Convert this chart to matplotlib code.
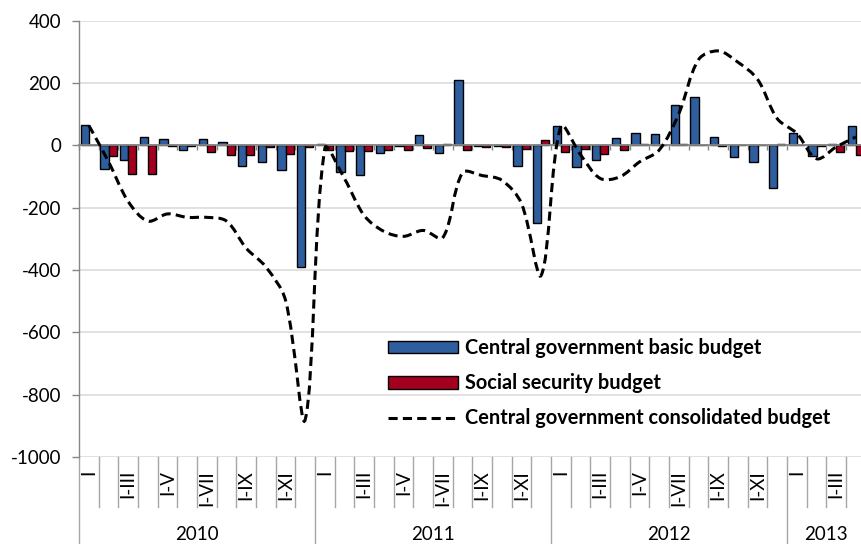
import numpy as np
import matplotlib
matplotlib.use('Agg')
import matplotlib.pyplot as plt
from matplotlib.path import Path
from matplotlib.patches import PathPatch, Patch
from matplotlib.lines import Line2D
from matplotlib.font_manager import FontProperties
import matplotlib.transforms as mtrans

plt.rcParams['font.family'] = ['Lato', 'DejaVu Sans']
plt.rcParams['axes.unicode_minus'] = False

# ---------------- data ----------------
years = ['2010', '2011', '2012', '2013']
months_per_year = [12, 12, 12, 4]
month_labels = ['I', 'I-II', 'I-III', 'I-IV', 'I-V', 'I-VI',
                'I-VII', 'I-VIII', 'I-IX', 'I-X', 'I-XI', 'I-XII']

basic = [64, -77, -46, 27, 22, -14, 19, 11, -67, -54, -78, -390,
         3, -86, -96, -25, -3, 32, -25, 211, -3, -3, -67, -249,
         62, -70, -48, 24, 41, 36, 128, 155, 28, -38, -54, -136,
         40, -35, 5, 61]

social = [0, -35, -91, -92, -2, -3, -21, -30, -30, -5, -27, -5,
          -16, -17, -17, -16, -14, -10, 5, -16, -5, -5, -13, 16,
          -21, -11, -29, -16, 3, 0, 5, 0, -3, 0, 0, 5,
          0, -3, -21, -32]

consolidated = [64, -52, -180, -243, -220, -231, -231, -243, -330, -390, -497, -880,
                -10, -107, -225, -276, -292, -273, -296, -88, -97, -112, -187, -417,
                61, -30, -106, -101, -53, -15, 102, 275, 303, 267, 212, 86,
                38, -43, -5, 27]

series_names = ['Central government basic budget',
                'Social security budget',
                'Central government consolidated budget']

BLUE = '#2F5E9E'
RED = '#A3001F'
GRAY = '#868686'
GRID = '#D9D9D9'

# ---------------- figure ----------------
W, H = 862, 544
fig = plt.figure(figsize=(W / 100, H / 100), dpi=100)
left_px, right_px, top_px, bot_px = 79, 865.7, 20.7, 457
ax = fig.add_axes([left_px / W, (H - bot_px) / H,
                   (right_px - left_px) / W, (bot_px - top_px) / H])

n = len(basic)
x = np.arange(n)
ax.bar(x - 0.21, basic, width=0.42, color=BLUE, edgecolor='black',
       linewidth=1.0, zorder=2)
ax.bar(x + 0.21, social, width=0.42, color=RED, edgecolor='black',
       linewidth=1.0, zorder=2)

ax.set_xlim(-0.5, n - 0.5)
ax.set_ylim(-1000, 400)

# smoothed line (Excel-like Bezier, tangent split by segment lengths in pixels)
pts = np.column_stack([x, consolidated]).astype(float)
sx = (right_px - left_px) / n          # px per category
sy = (bot_px - top_px) / 1400.0        # px per unit


def seglen(a, b):
    return np.hypot((b[0] - a[0]) * sx, (b[1] - a[1]) * sy)


out_cp = []
in_cp = []
for i in range(n):
    p = pts[i]
    prv = pts[max(i - 1, 0)]
    nxt = pts[min(i + 1, n - 1)]
    T = nxt - prv
    d1 = seglen(prv, p)
    d2 = seglen(p, nxt)
    tot = d1 + d2 if (d1 + d2) > 0 else 1.0
    k = 1.0 / 3.0
    out_cp.append(p + T * k * d2 / tot)
    in_cp.append(p - T * k * d1 / tot)

verts = [tuple(pts[0])]
codes = [Path.MOVETO]
for i in range(n - 1):
    verts += [tuple(out_cp[i]), tuple(in_cp[i + 1]), tuple(pts[i + 1])]
    codes += [Path.CURVE4] * 3
LW = 2.2
DASH = (3, 1.7)
line = PathPatch(Path(verts, codes), facecolor='none', edgecolor='black',
                 linewidth=LW, linestyle=(0, DASH), zorder=3)
ax.add_patch(line)

# axes styling
ax.set_yticks(np.arange(-1000, 401, 200))
ax.set_axisbelow(True)
ax.yaxis.grid(True, color=GRID, linewidth=1.1)
ax.spines['top'].set_visible(False)
ax.spines['right'].set_visible(False)
ax.spines['left'].set_color(GRAY)
ax.spines['left'].set_linewidth(1.0)
ax.spines['bottom'].set_position(('data', 0))
ax.spines['bottom'].set_color(GRAY)
ax.spines['bottom'].set_linewidth(1.3)
ax.spines['bottom'].set_zorder(2.5)
ax.set_xticks(np.arange(-0.5, n, 1.0))
ax.tick_params(axis='x', length=3.6, width=1.0, color=GRAY, direction='out',
               labelbottom=False)
ax.tick_params(axis='y', length=5, width=1.0, color=GRAY, direction='out',
               pad=8, labelsize=13.5)

# category label area below the plot
trans = mtrans.blended_transform_factory(ax.transData, ax.transAxes)
ph = bot_px - top_px
month_line_len = -50 / ph
year_line_len = -(H - bot_px + 2) / ph
year_starts = np.cumsum([0] + months_per_year[:-1])
for b in np.arange(-0.5, n, 1.0):
    is_year = (b + 0.5) in year_starts
    ax.plot([b, b], [0, year_line_len if is_year else month_line_len],
            color='#A6A6A6', linewidth=1.0, transform=trans, clip_on=False)

label_y = -(470 - bot_px) / ph
year_y = -(535 - bot_px) / ph
idx = 0
for yr, cnt in zip(years, months_per_year):
    for m in range(cnt):
        if m % 2 == 0:
            ax.text(idx + m, label_y, month_labels[m], rotation=90,
                    ha='center', va='top', fontsize=13.5, transform=trans)
    ax.text(idx + (cnt - 1) / 2.0, year_y, yr, ha='center', va='center',
            fontsize=13.5, transform=trans)
    idx += cnt

# legend
handles = [Patch(facecolor=BLUE, edgecolor='black', linewidth=1.0),
           Patch(facecolor=RED, edgecolor='black', linewidth=1.0),
           Line2D([], [], color='black', linewidth=LW, dashes=DASH)]
leg = ax.legend(handles, series_names, loc='upper left',
                bbox_to_anchor=((388 - left_px) / (right_px - left_px),
                                (bot_px - 338) / ph),
                frameon=False,
                prop=FontProperties(family=['Lato', 'DejaVu Sans'],
                                    weight='bold', size=14.4),
                handlelength=3.5, handleheight=0.6, handletextpad=0.35,
                labelspacing=0.76, borderpad=0, borderaxespad=0)

fig.savefig('out.png', dpi=100)
